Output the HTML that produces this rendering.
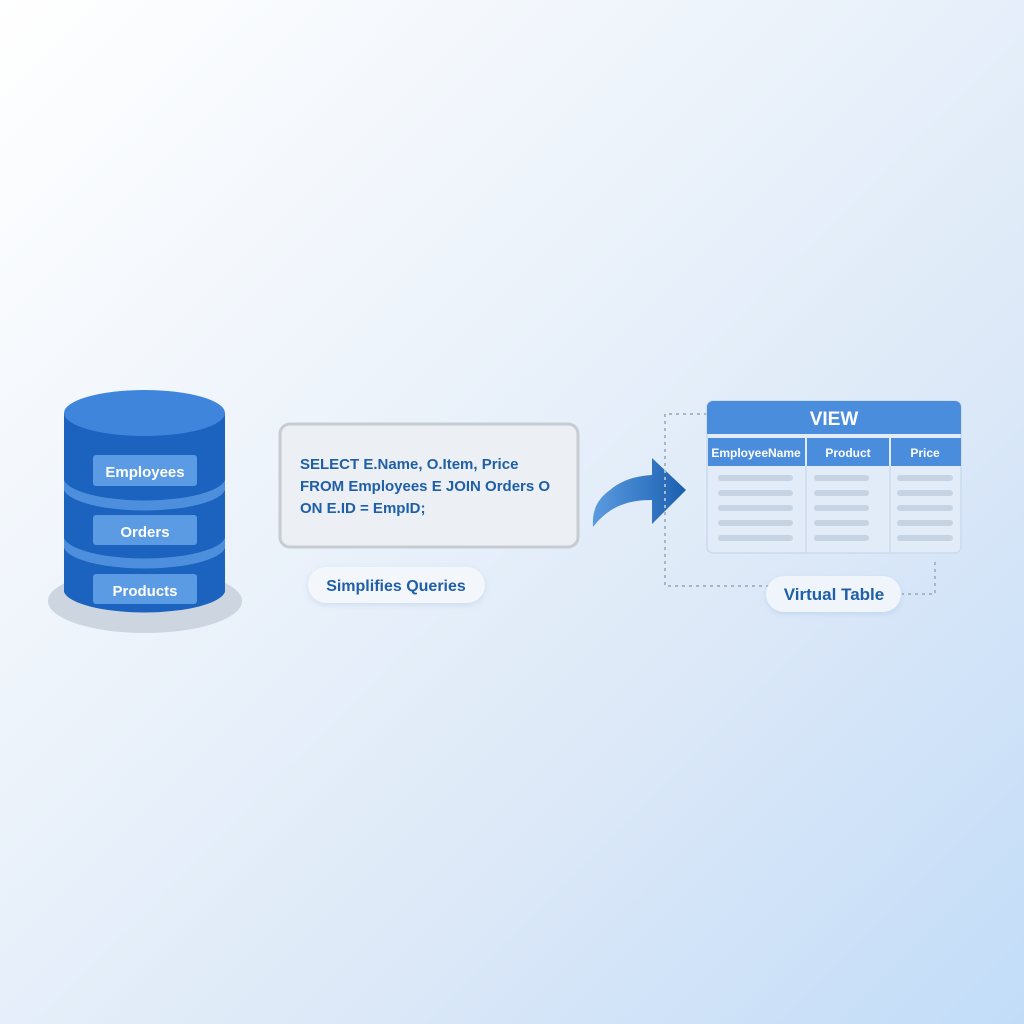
<!DOCTYPE html>
<html><head><meta charset="utf-8"><style>
html,body{margin:0;padding:0;width:1024px;height:1024px;overflow:hidden}
body{background:linear-gradient(135deg,#ffffff 0%,#eef4fb 35%,#dde9f8 65%,#c2dcf8 100%)}
svg{display:block}
text{font-family:"Liberation Sans",sans-serif;font-weight:bold}
</style></head><body>
<svg width="1024" height="1024" viewBox="0 0 1024 1024" xmlns="http://www.w3.org/2000/svg">
<defs>
<linearGradient id="ar" x1="0" x2="1" y1="0" y2="0"><stop offset="0" stop-color="#5b9be0"/><stop offset="1" stop-color="#1a5fb0"/></linearGradient>
<filter id="sh" x="-20%" y="-20%" width="140%" height="140%"><feDropShadow dx="0" dy="2" stdDeviation="3" flood-color="#7fa5d0" flood-opacity="0.25"/></filter>
</defs>
<!-- DB shadow -->
<ellipse cx="145" cy="601" rx="97" ry="32" fill="#cdd5e0"/>
<!-- cylinder body -->
<path d="M64 413 L64 592 A81 23 0 0 0 225 592 L225 413 Z" fill="#1b63be"/>
<path d="M64 480 A81 23 0 0 0 225 480 L225 490 A81 23 0 0 1 64 490 Z" fill="#4d8fdc"/>
<path d="M64 538 A81 23 0 0 0 225 538 L225 548 A81 23 0 0 1 64 548 Z" fill="#4d8fdc"/>
<ellipse cx="144.5" cy="413" rx="80.5" ry="23" fill="#3f85dc"/>
<rect x="93" y="455" width="104" height="31" rx="3" fill="#5b9be4"/>
<rect x="93" y="515" width="104" height="30" rx="3" fill="#5b9be4"/>
<rect x="93" y="574" width="104" height="30" rx="3" fill="#5b9be4"/>
<text x="145" y="477" font-size="15" fill="#fff" text-anchor="middle">Employees</text>
<text x="145" y="537" font-size="15" fill="#fff" text-anchor="middle">Orders</text>
<text x="145" y="596" font-size="15" fill="#fff" text-anchor="middle">Products</text>
<!-- SQL box -->
<rect x="280" y="424" width="298" height="123" rx="10" fill="#eceff3" stroke="#c8ccd2" stroke-width="3"/>
<text x="300" y="469" font-size="15" fill="#1f5fa8" font-weight="normal" style="font-weight:600">SELECT E.Name, O.Item, Price</text>
<text x="300" y="491" font-size="15" fill="#1f5fa8" style="font-weight:600">FROM Employees E JOIN Orders O</text>
<text x="300" y="513" font-size="15" fill="#1f5fa8" style="font-weight:600">ON E.ID = EmpID;</text>
<rect x="308" y="567" width="177" height="36" rx="18" fill="#f3f7fc" filter="url(#sh)"/>
<text x="396" y="591" font-size="16" fill="#1f5fa8" text-anchor="middle">Simplifies Queries</text>
<!-- arrow -->
<path d="M593 527 C592 512 596 500 610 490 C622 480 636 476 652 475 L652 458 L686 490 L652 524 L652 500 C630 500 610 505 593 527 Z" fill="url(#ar)"/>
<!-- dotted connectors -->
<path d="M707 414 L665 414 L665 586 L770 586" fill="none" stroke="#a9b6c5" stroke-width="2" stroke-dasharray="3 4"/>
<path d="M935 562 L935 594 L902 594" fill="none" stroke="#a9b6c5" stroke-width="2" stroke-dasharray="3 4"/>
<!-- view table -->
<rect x="707" y="401" width="254" height="152" rx="6" fill="#e2ecf8" stroke="#cbdaee" stroke-width="1.5"/>
<path d="M713 401 L955 401 A6 6 0 0 1 961 407 L961 434 L707 434 L707 407 A6 6 0 0 1 713 401 Z" fill="#4a8ddc"/>
<rect x="708" y="438" width="97" height="28" fill="#4a8ddc"/>
<rect x="807" y="438" width="82" height="28" fill="#4a8ddc"/>
<rect x="891" y="438" width="70" height="28" fill="#4a8ddc"/>
<line x1="806" y1="466" x2="806" y2="553" stroke="#cbdaee" stroke-width="1.5"/>
<line x1="890" y1="466" x2="890" y2="553" stroke="#cbdaee" stroke-width="1.5"/>
<text x="834" y="425" font-size="19" fill="#fff" text-anchor="middle">VIEW</text>
<text x="756" y="457" font-size="12" fill="#fff" text-anchor="middle">EmployeeName</text>
<text x="848" y="457" font-size="12" fill="#fff" text-anchor="middle">Product</text>
<text x="925" y="457" font-size="12" fill="#fff" text-anchor="middle">Price</text>
<g stroke="#c6d3e3" stroke-width="6" stroke-linecap="round">
<line x1="721" y1="478" x2="790" y2="478"/><line x1="817" y1="478" x2="866" y2="478"/><line x1="900" y1="478" x2="950" y2="478"/>
<line x1="721" y1="493" x2="790" y2="493"/><line x1="817" y1="493" x2="866" y2="493"/><line x1="900" y1="493" x2="950" y2="493"/>
<line x1="721" y1="508" x2="790" y2="508"/><line x1="817" y1="508" x2="866" y2="508"/><line x1="900" y1="508" x2="950" y2="508"/>
<line x1="721" y1="523" x2="790" y2="523"/><line x1="817" y1="523" x2="866" y2="523"/><line x1="900" y1="523" x2="950" y2="523"/>
<line x1="721" y1="538" x2="790" y2="538"/><line x1="817" y1="538" x2="866" y2="538"/><line x1="900" y1="538" x2="950" y2="538"/>
</g>
<rect x="766" y="576" width="135" height="36" rx="18" fill="#f0f5fc" filter="url(#sh)"/>
<text x="834" y="600" font-size="17" fill="#1f5fa8" text-anchor="middle" style="font-weight:600">Virtual Table</text>
</svg>
</body></html>
